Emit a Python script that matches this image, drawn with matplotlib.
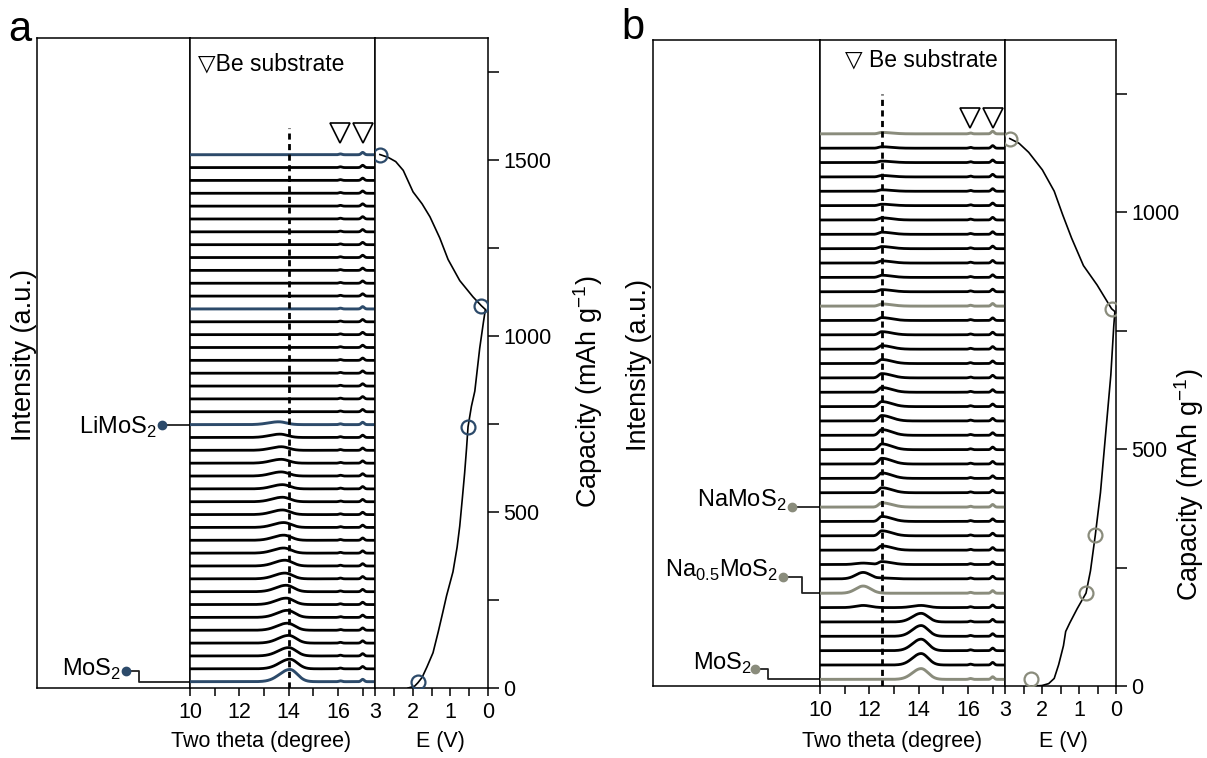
import numpy as np
import matplotlib
matplotlib.use("Agg")
import matplotlib.pyplot as plt
from matplotlib.ticker import FixedLocator, NullFormatter

plt.rcParams['font.family'] = ['Liberation Sans', 'DejaVu Sans']
plt.rcParams['mathtext.fontset'] = 'custom'
plt.rcParams['mathtext.rm'] = 'Liberation Sans'
plt.rcParams['axes.linewidth'] = 1.1

# ---------------- data: panel a (Li) ----------------
a_n_traces = 42
a_cap_bottom, a_cap_top = 18, 1514.5
a_highlight = [0, 20, 29, 41]
a_peak_pos = [14.05, 14.05, 14.0, 14.0, 13.95, 13.95, 13.9, 13.9, 13.85, 13.85,
              13.8, 13.8, 13.8, 13.75, 13.75, 13.75, 13.7, 13.7, 13.7, 13.65, 13.6]
a_peak_h = [0.95, 0.75, 0.65, 0.6, 0.55, 0.55, 0.5, 0.5, 0.45, 0.45,
            0.4, 0.4, 0.38, 0.36, 0.35, 0.33, 0.32, 0.3, 0.28, 0.26, 0.22]
be_pos = [16.1, 17.0]
be_h = [0.06, 0.18]
a_curve_E = [2.12, 1.95, 1.86, 1.75, 1.62, 1.46, 1.32, 1.2, 1.1, 0.93, 0.82, 0.75,
             0.68, 0.62, 0.57, 0.53, 0.44, 0.35, 0.22, 0.12, 0.07,
             0.18, 0.40, 0.75, 1.06, 1.28, 1.54, 1.75, 1.99, 2.25, 2.45, 2.65, 2.87]
a_curve_cap = [0, 5, 15, 30, 60, 100, 160, 215, 262, 330, 400, 460,
               540, 611, 680, 742, 800, 843, 965, 1040, 1075,
               1086, 1111, 1157, 1217, 1278, 1338, 1375, 1409, 1470, 1495, 1507, 1515]
a_circle_E = [1.86, 0.53, 0.18, 2.87]
a_circle_cap = [18, 742, 1086, 1515]
a_labels = ['LiMoS$_\\mathregular{2}$', 'MoS$_\\mathregular{2}$']

# ---------------- data: panel b (Na) ----------------
b_n_traces = 39
b_cap_bottom, b_cap_top = 14, 1165
b_highlight = [0, 6, 12, 26, 38]
b_h140 = [0.75, 0.8, 0.8, 0.75, 0.6, 0.15]
b_h117 = [0, 0, 0, 0, 0, 0.15, 0.5, 0.45, 0.1]
b_h125 = [0, 0, 0, 0, 0, 0, 0, 0.05, 0.2, 0.3, 0.35, 0.35, 0.3, 0.35, 0.38, 0.4,
          0.4, 0.4, 0.38, 0.35, 0.33, 0.3, 0.28, 0.25, 0.22, 0.2, 0.15, 0.15, 0.15,
          0.15, 0.15, 0.15, 0.15, 0.1, 0.1, 0.1, 0.1, 0.1, 0.1]
b_curve_E = [2.2, 2.0, 1.82, 1.67, 1.55, 1.42, 1.36, 1.25, 1.05, 0.81, 0.69, 0.56,
             0.42, 0.28, 0.14, 0.06, 0.03,
             0.12, 0.51, 0.88, 1.20, 1.44, 1.67, 1.99, 2.36, 2.62, 2.87]
b_curve_cap = [0, 1, 5, 16, 45, 85, 115, 133, 163, 196, 243, 318,
               408, 532, 656, 760, 790,
               796, 846, 887, 945, 994, 1044, 1089, 1126, 1145, 1155]
b_circle_E = [2.30, 0.81, 0.56, 0.12, 2.87]
b_circle_cap = [14, 196, 318, 796, 1155]
b_labels = ['NaMoS$_\\mathregular{2}$', 'Na$_\\mathregular{0.5}$MoS$_\\mathregular{2}$',
            'MoS$_\\mathregular{2}$']

theta = np.linspace(10, 17.5, 700)
W, H = 1207, 758
FS_TICK = 15.5
FS_LAB = 17
FS_ROT = 19.5


def peak(x, c, h, sl, sr):
    s = np.where(x < c, sl, sr)
    return h * np.exp(-0.5 * ((x - c) / s) ** 2)


def fx(px):
    return px / W


def fy(py):
    return 1 - py / H


def make_axes(fig, xl, xs1, xs2, xr, yt, yb, ymax, yticks_major, yticks_minor):
    y0 = fy(yb)
    h = fy(yt) - y0
    axL = fig.add_axes([fx(xl), y0, fx(xs1 - xl), h])
    axX = fig.add_axes([fx(xs1), y0, fx(xs2 - xs1), h], sharey=axL)
    axE = fig.add_axes([fx(xs2), y0, fx(xr - xs2), h], sharey=axL)
    axL.set_ylim(0, ymax)
    axL.set_xlim(0, 1)
    axE.yaxis.set_major_locator(FixedLocator(yticks_major))
    axE.yaxis.set_minor_locator(FixedLocator(yticks_minor))
    axE.yaxis.set_minor_formatter(NullFormatter())
    axL.tick_params(axis='both', which='both', left=False, labelleft=False,
                    bottom=False, labelbottom=False)
    axX.set_xlim(10, 17.5)
    axX.xaxis.set_major_locator(FixedLocator([10, 12, 14, 16]))
    axX.xaxis.set_minor_locator(FixedLocator([11, 13, 15, 17]))
    axX.tick_params(axis='x', which='both', direction='out', length=6,
                    width=1.1, labelsize=FS_TICK, pad=4)
    axX.tick_params(axis='y', which='both', left=False, labelleft=False)
    axE.set_xlim(3, 0)
    axE.xaxis.set_major_locator(FixedLocator([3, 2, 1, 0]))
    axE.xaxis.set_minor_locator(FixedLocator([2.5, 1.5, 0.5]))
    axE.tick_params(axis='x', which='both', direction='out', length=6,
                    width=1.1, labelsize=FS_TICK, pad=4)
    axE.tick_params(axis='y', which='both', direction='out', length=8,
                    width=1.1, labelsize=FS_TICK, pad=3, left=False, labelleft=False,
                    right=True, labelright=True)
    return axL, axX, axE


fig = plt.figure(figsize=(W / 100, H / 100), dpi=100)

# ====================== panel a ======================
axL, axX, axE = make_axes(fig, 37, 190, 375, 488, 38, 688, 1846,
                          [0, 500, 1000, 1500], [250, 750, 1250, 1750])
blue = '#2c4a6a'
offs_a = np.linspace(a_cap_bottom, a_cap_top, a_n_traces)
step_a = offs_a[1] - offs_a[0]
for i, off in enumerate(offs_a):
    y = np.zeros_like(theta)
    if i < len(a_peak_h):
        y += peak(theta, a_peak_pos[i], a_peak_h[i], 0.42, 0.3)
    for p, hh in zip(be_pos, be_h):
        y += peak(theta, p, hh, 0.06, 0.06)
    hl = i in a_highlight
    axX.plot(theta, off + step_a * y, color=blue if hl else 'black',
             lw=2.1 if hl else 2.0, zorder=3 if hl else 2)
axX.plot([14.0, 14.0], [0, 1590], color='black', lw=2.0, ls=(0, (2.2, 1.6)), zorder=4)
axX.plot(be_pos, [1577, 1577], ls='none', marker='v', ms=15, mfc='white',
         mec='black', mew=1.2, zorder=5)
axX.text(13.3, 1772, '\u25bdBe substrate', ha='center', va='center', fontsize=16.5)
axE.plot(a_curve_E, a_curve_cap, color='black', lw=1.2, zorder=2)
axE.plot(a_circle_E, a_circle_cap, ls='none', marker='o', ms=10, mfc='none',
         mec=blue, mew=1.6, zorder=3)
# labels
lab_y = offs_a[20]
axL.plot([0.82, 1.0], [lab_y, lab_y], color='#222222', lw=1.3)
axL.plot([0.82], [lab_y], marker='o', ms=6, color=blue)
axL.text(0.78, lab_y - 25, a_labels[0], ha='right', va='baseline', fontsize=FS_LAB)
dot_y = offs_a[0] + 31
axL.plot([0.58, 0.667, 0.667, 1.0], [dot_y, dot_y, offs_a[0], offs_a[0]],
         color='#222222', lw=1.3)
axL.plot([0.58], [dot_y], marker='o', ms=6, color=blue)
axL.text(0.55, dot_y - 14, a_labels[1], ha='right', va='baseline', fontsize=FS_LAB)

fig.text(fx(20), fy(30), 'a', fontsize=30, ha='center', va='center')
fig.text(fx(24), fy(355), 'Intensity (a.u.)', rotation=90, fontsize=FS_ROT,
         ha='center', va='center')
fig.text(fx(588), fy(392), 'Capacity (mAh g$^\\mathregular{-1}$)', rotation=90,
         fontsize=FS_ROT, ha='center', va='center')
fig.text(fx(261), fy(742), 'Two theta (degree)', fontsize=FS_TICK, ha='center', va='center')
fig.text(fx(440), fy(742), 'E (V)', fontsize=FS_TICK, ha='center', va='center')

# ====================== panel b ======================
axL, axX, axE = make_axes(fig, 653, 820, 1005, 1116, 40, 686, 1363,
                          [0, 500, 1000], [250, 750, 1250])
gray = '#8a8c7c'
offs_b = np.linspace(b_cap_bottom, b_cap_top, b_n_traces)
step_b = offs_b[1] - offs_b[0]
for i, off in enumerate(offs_b):
    y = np.zeros_like(theta)
    if i < len(b_h140):
        y += peak(theta, 14.1, b_h140[i], 0.35, 0.28)
    if i < len(b_h117):
        y += peak(theta, 11.75, b_h117[i], 0.3, 0.3)
    y += peak(theta, 12.5, b_h125[i], 0.12, 0.4)
    for p, hh in zip(be_pos, be_h):
        y += peak(theta, p, hh, 0.06, 0.06)
    hl = i in b_highlight
    axX.plot(theta, off + step_b * y, color=gray if hl else 'black',
             lw=2.1 if hl else 2.0, zorder=3 if hl else 2)
axX.plot([12.5, 12.5], [0, 1250], color='black', lw=2.0, ls=(0, (2.2, 1.6)), zorder=4)
axX.plot(be_pos, [1198, 1198], ls='none', marker='v', ms=15, mfc='white',
         mec='black', mew=1.2, zorder=5)
axX.text(14.1, 1320, '\u25bd Be substrate', ha='center', va='center', fontsize=16.5)
axE.plot(b_curve_E, b_curve_cap, color='black', lw=1.2, zorder=2)
axE.plot(b_circle_E, b_circle_cap, ls='none', marker='o', ms=10, mfc='none',
         mec=gray, mew=1.6, zorder=3)
# labels
y12 = offs_b[12]
axL.plot([0.83, 1.0], [y12, y12], color='#222222', lw=1.3)
axL.plot([0.83], [y12], marker='o', ms=6, color=gray)
axL.text(0.80, y12, b_labels[0], ha='right', va='baseline', fontsize=FS_LAB)
y6 = offs_b[6]
d6 = y6 + 34
axL.plot([0.776, 0.89, 0.89, 1.0], [d6, d6, y6, y6], color='#222222', lw=1.3)
axL.plot([0.776], [d6], marker='o', ms=6, color=gray)
axL.text(0.75, d6, b_labels[1], ha='right', va='baseline', fontsize=FS_LAB)
y0 = offs_b[0]
d0 = y0 + 21
axL.plot([0.611, 0.69, 0.69, 1.0], [d0, d0, y0, y0], color='#222222', lw=1.3)
axL.plot([0.611], [d0], marker='o', ms=6, color=gray)
axL.text(0.593, d0, b_labels[2], ha='right', va='baseline', fontsize=FS_LAB)

fig.text(fx(633), fy(28), 'b', fontsize=30, ha='center', va='center')
fig.text(fx(639), fy(365), 'Intensity (a.u.)', rotation=90, fontsize=FS_ROT,
         ha='center', va='center')
fig.text(fx(1189), fy(485), 'Capacity (mAh g$^\\mathregular{-1}$)', rotation=90,
         fontsize=FS_ROT, ha='center', va='center')
fig.text(fx(892), fy(742), 'Two theta (degree)', fontsize=FS_TICK, ha='center', va='center')
fig.text(fx(1063), fy(742), 'E (V)', fontsize=FS_TICK, ha='center', va='center')

fig.savefig('out.png', dpi=100)
